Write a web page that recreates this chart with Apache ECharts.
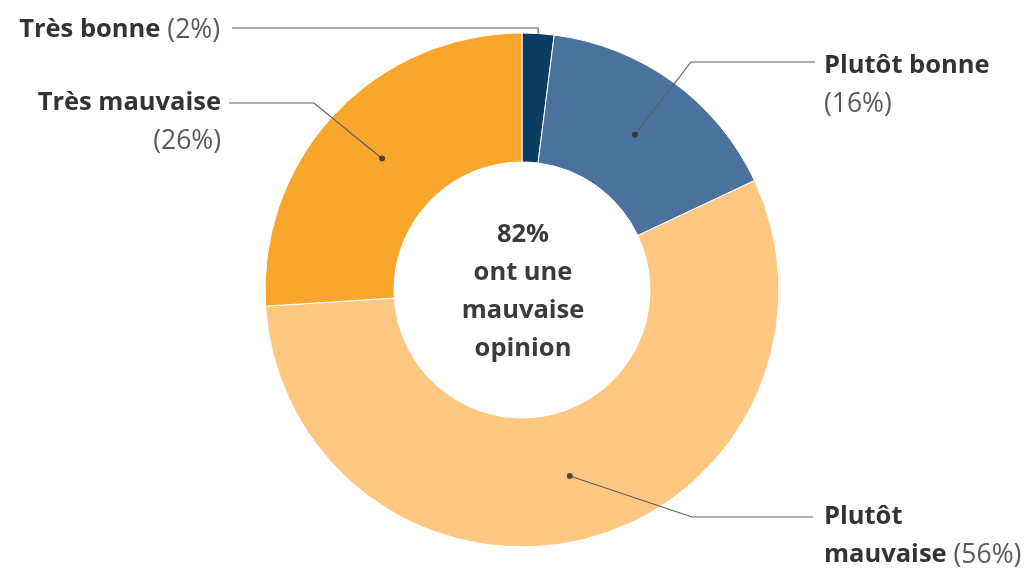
<!DOCTYPE html>
<html>
<head>
<meta charset="utf-8">
<style>
  html, body { margin: 0; padding: 0; background: #fff; }
  #chart { width: 1030px; height: 571px; }
</style>
<script src="https://cdn.jsdelivr.net/npm/echarts@6/dist/echarts.min.js"></script>
</head>
<body>
<div id="chart"></div>
<script>
// données
var categories = ["Très bonne", "Plutôt bonne", "Plutôt mauvaise", "Très mauvaise"];
var values = [2, 16, 56, 26];
var colors = ["#0b3c62", "#4a729c", "#fec883", "#f9a72c"];
var centerLines = ["82%", "ont une", "mauvaise", "opinion"];

var CX = 522, CY = 290, R_IN = 128, R_OUT = 257, R_DOT = 192;
var FONT = "Open Sans";
var FS = 25.5;
var total = values.reduce(function (a, b) { return a + b; }, 0);

// angle milieu de chaque part (en % cumulés)
var midPct = [];
var acc = 0;
values.forEach(function (v) {
  midPct.push((acc + v / 2) / total * 100);
  acc += v;
});

function pointAt(i, r) {
  var a = (90 - midPct[i] * 3.6) * Math.PI / 180;
  return [CX + r * Math.cos(a), CY - r * Math.sin(a)];
}

// placement des étiquettes : coude, fin du trait, ancre du texte
var labelPos = [
  { fromEdge: true, bend: [null, 28], end: 232, x: 220, y: 30, align: "right" },
  { bend: [691, 62], end: 815, x: 824, y: 85, align: "left" },
  { bend: [692, 517], end: 813, x: 824, y: 536, align: "left" },
  { bend: [314, 103], end: 229, x: 221, y: 122, align: "right" }
];

var pieData = categories.map(function (c, i) {
  return { name: c, value: values[i], itemStyle: { color: colors[i] } };
});

var chart = echarts.init(document.getElementById("chart"));

chart.setOption({
  animation: false,
  polar: { center: [CX, CY], radius: R_OUT },
  angleAxis: { type: "value", min: 0, max: 100, startAngle: 90, show: false },
  radiusAxis: { type: "value", min: 0, max: R_OUT, show: false },
  graphic: [{
    type: "text",
    x: CX + 1,
    y: CY + 2,
    z: 10,
    style: {
      text: centerLines.join("\n"),
      fontFamily: FONT,
      fontWeight: "bold",
      fontSize: FS,
      lineHeight: 38,
      fill: "#3b3b3b",
      align: "center",
      verticalAlign: "middle"
    }
  }],
  series: [
    {
      // l'anneau
      type: "pie",
      z: 2,
      center: [CX, CY],
      radius: [R_IN, R_OUT],
      startAngle: 90,
      clockwise: true,
      silent: true,
      itemStyle: { borderColor: "#fff", borderWidth: 1 },
      label: { show: false },
      labelLine: { show: false },
      data: pieData
    },
    {
      // calque transparent qui porte étiquettes et traits, au-dessus de l'anneau
      type: "pie",
      z: 4,
      center: [CX, CY],
      radius: [0, R_DOT],
      startAngle: 90,
      clockwise: true,
      silent: true,
      itemStyle: { color: "rgba(0,0,0,0)", borderWidth: 0 },
      label: {
        show: true,
        position: "outside",
        formatter: function (p) {
          var pct = "{p| (" + p.value + "%)}";
          if (p.dataIndex === 0) return "{b|" + p.name + "}" + pct;
          if (p.dataIndex === 2) {
            var parts = p.name.split(" ");
            return "{b|" + parts[0] + "}\n{b|" + parts.slice(1).join(" ") + "}" + pct;
          }
          return "{b|" + p.name + "}\n{p|(" + p.value + "%)}";
        },
        rich: {
          b: { fontFamily: FONT, fontWeight: "bold", fontSize: FS, lineHeight: 38, color: "#333" },
          p: { fontFamily: FONT, fontSize: 26.5, lineHeight: 38, color: "#5a5a5a" }
        }
      },
      labelLine: { show: true, showAbove: true, lineStyle: { color: "#5f5f5f", width: 1.2 } },
      labelLayout: function (p) {
        var lp = labelPos[p.dataIndex];
        var start = lp.fromEdge ? pointAt(p.dataIndex, R_OUT) : pointAt(p.dataIndex, R_DOT);
        var bend = [lp.bend[0] == null ? start[0] : lp.bend[0], lp.bend[1]];
        return {
          x: lp.x,
          y: lp.y,
          align: lp.align,
          verticalAlign: "middle",
          labelLinePoints: [start, bend, [lp.end, bend[1]]]
        };
      },
      data: pieData.map(function (d) {
        return { name: d.name, value: d.value };
      })
    },
    {
      type: "scatter",
      coordinateSystem: "polar",
      silent: true,
      z: 5,
      symbolSize: 6,
      itemStyle: { color: "#2a2a2a" },
      data: [1, 2, 3].map(function (i) { return [R_DOT, midPct[i]]; })
    }
  ]
});
</script>
</body>
</html>
